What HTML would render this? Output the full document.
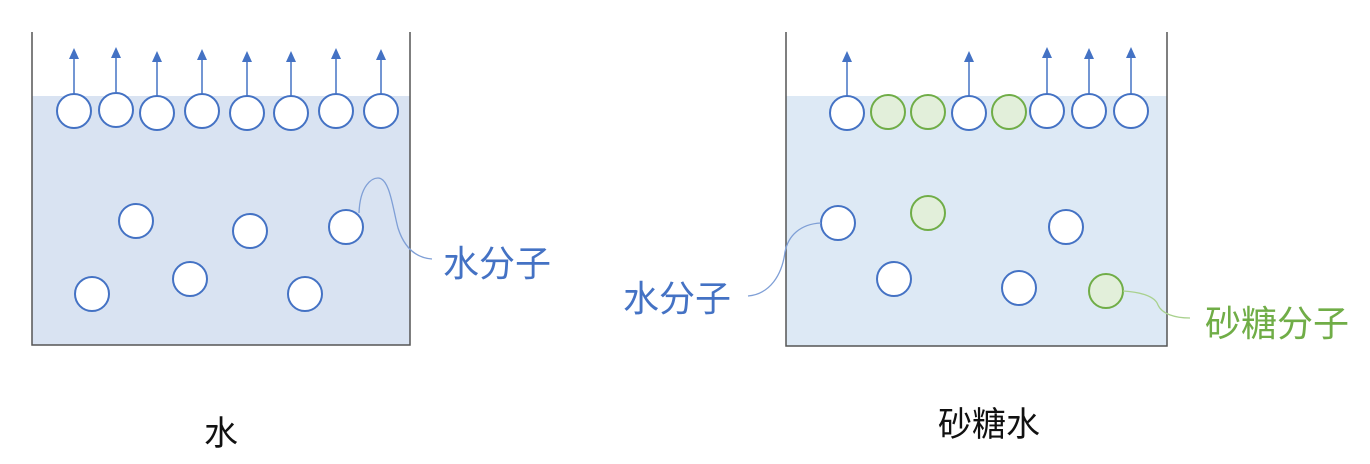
<!DOCTYPE html>
<html><head><meta charset="utf-8"><style>
html,body{margin:0;padding:0;background:#fff;width:1370px;height:464px;overflow:hidden}
text{font-family:"Liberation Sans","Noto Sans CJK SC",sans-serif}
</style></head><body>
<svg width="1370" height="464" viewBox="0 0 1370 464" xmlns="http://www.w3.org/2000/svg">
<!-- left beaker -->
<rect x="32" y="96" width="378" height="249" fill="#d9e3f2"/>
<path d="M32,32 V345 H410 V32" fill="none" stroke="#555" stroke-width="1.5"/>
<g stroke="#4472c4" stroke-width="1.5">
<line x1="74" y1="94" x2="74" y2="56"/><line x1="116" y1="92" x2="116" y2="55"/>
<line x1="157" y1="96" x2="157" y2="59"/><line x1="202" y1="94" x2="202" y2="57"/>
<line x1="247" y1="96" x2="247" y2="59"/><line x1="291" y1="96" x2="291" y2="59"/>
<line x1="336" y1="94" x2="336" y2="56"/><line x1="381" y1="95" x2="381" y2="57"/>
</g>
<g fill="#4472c4">
<path d="M69,59 L74,48 L79,59Z"/><path d="M111,58 L116,47 L121,58Z"/>
<path d="M152,62 L157,51 L162,62Z"/><path d="M197,60 L202,49 L207,60Z"/>
<path d="M242,62 L247,51 L252,62Z"/><path d="M286,62 L291,51 L296,62Z"/>
<path d="M331,59 L336,48 L341,59Z"/><path d="M376,60 L381,49 L386,60Z"/>
</g>
<g fill="#fff" stroke="#4472c4" stroke-width="2">
<ellipse cx="74" cy="111" rx="17" ry="17"/><ellipse cx="116" cy="110" rx="17" ry="17"/>
<ellipse cx="157" cy="113" rx="17" ry="17"/><ellipse cx="202" cy="111" rx="17" ry="17"/>
<ellipse cx="247" cy="113" rx="17" ry="17"/><ellipse cx="291" cy="113" rx="17" ry="17"/>
<ellipse cx="336" cy="111" rx="17" ry="17"/><ellipse cx="381" cy="111" rx="17" ry="17"/>
<ellipse cx="136" cy="221" rx="17" ry="17"/><ellipse cx="250" cy="231" rx="17" ry="17"/>
<ellipse cx="346" cy="227" rx="17" ry="17"/><ellipse cx="92" cy="294" rx="17" ry="17"/>
<ellipse cx="190" cy="279" rx="17" ry="17"/><ellipse cx="305" cy="294" rx="17" ry="17"/>
</g>
<path d="M359,213 C360,185 372,178 378,178 C390,178 393,210 398,228 C405,250 418,258 432,259" fill="none" stroke="#7f9fd6" stroke-width="1.3"/>
<text x="443" y="276" font-size="36" fill="#4472c4">水分子</text>
<text x="204" y="445" font-size="34" fill="#111">水</text>
<!-- right beaker -->
<rect x="786" y="96" width="381" height="250" fill="#dde9f5"/>
<path d="M786,32 V346 H1167 V32" fill="none" stroke="#555" stroke-width="1.5"/>
<g stroke="#4472c4" stroke-width="1.5">
<line x1="847" y1="96" x2="847" y2="59"/><line x1="969" y1="96" x2="969" y2="59"/>
<line x1="1047" y1="94" x2="1047" y2="55"/><line x1="1089" y1="94" x2="1089" y2="56"/>
<line x1="1131" y1="94" x2="1131" y2="55"/>
</g>
<g fill="#4472c4">
<path d="M842,62 L847,51 L852,62Z"/><path d="M964,62 L969,51 L974,62Z"/>
<path d="M1042,58 L1047,47 L1052,58Z"/><path d="M1084,59 L1089,48 L1094,59Z"/>
<path d="M1126,58 L1131,47 L1136,58Z"/>
</g>
<g fill="#fff" stroke="#4472c4" stroke-width="2">
<ellipse cx="847" cy="113" rx="17" ry="17"/><ellipse cx="969" cy="113" rx="17" ry="17"/>
<ellipse cx="1047" cy="111" rx="17" ry="17"/><ellipse cx="1089" cy="111" rx="17" ry="17"/>
<ellipse cx="1131" cy="111" rx="17" ry="17"/>
<ellipse cx="838" cy="223" rx="17" ry="17"/><ellipse cx="1066" cy="227" rx="17" ry="17"/>
<ellipse cx="894" cy="279" rx="17" ry="17"/><ellipse cx="1019" cy="288" rx="17" ry="17"/>
</g>
<g fill="#e2efda" stroke="#70ad47" stroke-width="2">
<ellipse cx="888" cy="112" rx="17" ry="17"/><ellipse cx="928" cy="112" rx="17" ry="17"/>
<ellipse cx="1009" cy="112" rx="17" ry="17"/><ellipse cx="928" cy="213" rx="17" ry="17"/>
<ellipse cx="1106" cy="291" rx="17" ry="17"/>
</g>
<path d="M821,223 C800,224 788,236 785,252 C782,275 770,294 748,296" fill="none" stroke="#7f9fd6" stroke-width="1.3"/>
<path d="M1123,291 C1140,292 1155,296 1158,305 C1162,314 1175,318 1190,318" fill="none" stroke="#a9d18e" stroke-width="1.3"/>
<text x="623" y="311" font-size="36" fill="#4472c4">水分子</text>
<text x="1205" y="336" font-size="36" fill="#70ad47">砂糖分子</text>
<text x="938" y="436" font-size="34" fill="#111">砂糖水</text>
</svg>
</body></html>
